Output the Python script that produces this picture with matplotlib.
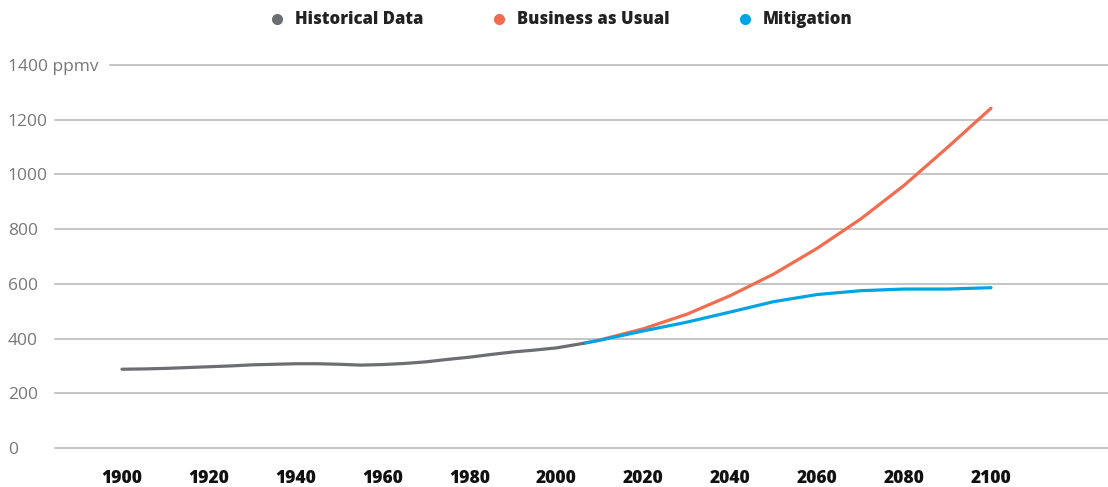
import matplotlib
matplotlib.use("Agg")
import matplotlib.pyplot as plt
from matplotlib.lines import Line2D

# CO2 concentration (ppmv)
hist_years = [1900, 1905, 1910, 1915, 1920, 1925, 1930, 1935, 1940, 1945, 1950,
              1955, 1960, 1965, 1970, 1975, 1980, 1985, 1990, 1995, 2000, 2006]
hist_vals = [288, 289, 291, 294, 297, 300, 304, 306, 308, 308, 306,
             303, 305, 309, 315, 324, 332, 342, 351, 358, 366, 382]

proj_years = [2006, 2010, 2020, 2030, 2040, 2050, 2060, 2070, 2080, 2090, 2100]
bau_vals = [382, 395, 436, 489, 557, 636, 730, 837, 960, 1099, 1242]
mit_vals = [382, 394, 428, 460, 497, 535, 561, 575, 581, 581, 586]

xticks = [1900, 1920, 1940, 1960, 1980, 2000, 2020, 2040, 2060, 2080, 2100]
yticks = [0, 200, 400, 600, 800, 1000, 1200, 1400]
ylabels = ["0", "200", "400", "600", "800", "1000", "1200", "1400 ppmv"]

c_hist = "#6d6e71"
c_bau = "#f26c4f"
c_mit = "#00a4e4"
c_grid = "#b5b5b5"

plt.rcParams["font.family"] = ["Open Sans", "DejaVu Sans"]

fig = plt.figure(figsize=(11.08, 4.87), dpi=100)
ax = fig.add_axes([0.04964, 0.08008, 0.95036, 0.78645])

# gridlines (the top one starts after the wider "ppmv" label)
for y in yticks:
    xmin = 0.052 if y == 1400 else 0.0
    ax.axhline(y, xmin=xmin, xmax=1, color=c_grid, lw=1.1, zorder=1, clip_on=False)

ax.plot(proj_years, bau_vals, color=c_bau, lw=2.3, solid_capstyle="round",
        solid_joinstyle="round", zorder=3)
ax.plot(proj_years, mit_vals, color=c_mit, lw=2.3, solid_capstyle="round",
        solid_joinstyle="round", zorder=4)
ax.plot(hist_years, hist_vals, color=c_hist, lw=2.3, solid_capstyle="round",
        solid_joinstyle="round", zorder=5)

ax.set_xlim(1884.58, 2126.93)
ax.set_ylim(0, 1400)

ax.set_xticks(xticks)
ax.set_xticklabels([str(x) for x in xticks], fontsize=12.5, fontweight="heavy", color="#111111")
ax.set_yticks(yticks)
ax.set_yticklabels(ylabels, fontsize=12.5, color="#777777")
for lab in ax.get_yticklabels():
    lab.set_horizontalalignment("left")
ax.tick_params(axis="x", length=0, pad=16)
ax.tick_params(axis="y", length=0, pad=34)

for s in ax.spines.values():
    s.set_visible(False)

handles = [
    Line2D([], [], ls="none", marker="o", ms=7, color=c_hist, label="Historical Data"),
    Line2D([], [], ls="none", marker="o", ms=7, color=c_bau, label="Business as Usual"),
    Line2D([], [], ls="none", marker="o", ms=7, color=c_mit, label="Mitigation"),
]
leg = fig.legend(handles=handles, loc="center", bbox_to_anchor=(0.506, 0.959), ncol=3,
                 frameon=False, handlelength=1, handletextpad=0.6, columnspacing=4.0,
                 prop={"size": 12, "weight": "heavy"})
for t in leg.get_texts():
    t.set_color("#222222")

fig.savefig("out.png", dpi=100)
